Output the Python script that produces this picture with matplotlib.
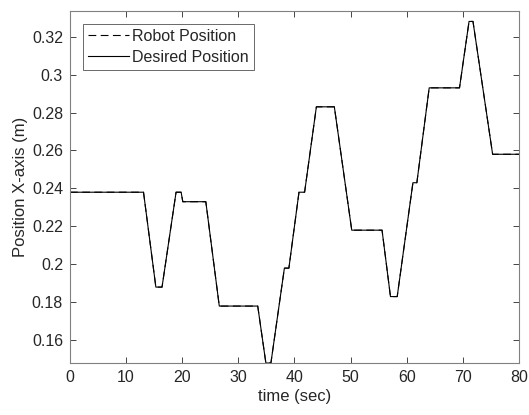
import matplotlib.pyplot as plt

plt.rcParams['font.family'] = ['Liberation Sans', 'DejaVu Sans']

# breakpoints of the trajectory (time in s, position in m)
t = [0, 13.1, 15.3, 16.4, 18.9, 19.8, 20.1, 24.2, 26.6, 33.45, 34.9, 35.8,
     38.2, 39.0, 40.8, 41.8, 43.9, 47.1, 50.2, 55.6, 57.1, 58.3, 61.1, 61.8,
     64.0, 69.4, 71.1, 71.8, 75.3, 80]
desired = [0.238, 0.238, 0.188, 0.188, 0.238, 0.238, 0.233, 0.233, 0.178, 0.178,
           0.148, 0.148, 0.198, 0.198, 0.238, 0.238, 0.283, 0.283, 0.218, 0.218,
           0.183, 0.183, 0.243, 0.243, 0.293, 0.293, 0.328, 0.328, 0.258, 0.258]
robot = desired

xticks = [0, 10, 20, 30, 40, 50, 60, 70, 80]
yticks = [0.16, 0.18, 0.2, 0.22, 0.24, 0.26, 0.28, 0.3, 0.32]
ylabels = ["0.16", "0.18", "0.2", "0.22", "0.24", "0.26", "0.28", "0.3", "0.32"]

gray = "#262626"
fig = plt.figure(figsize=(5.29, 4.15), dpi=100)
ax = fig.add_axes([0.1323, 0.1253, 0.8488, 0.8482])

ax.plot(t, robot, color="black", lw=0.8, dashes=(7, 4), label="Robot Position")
ax.plot(t, desired, "-", color="black", lw=0.8, label="Desired Position")

ax.set_xlim(0, 80)
ax.set_ylim(0.148, 0.3335)
ax.set_xticks(xticks)
ax.set_yticks(yticks)
ax.set_yticklabels(ylabels)
ax.tick_params(direction="in", top=True, right=True, length=4, width=0.6,
               labelsize=11.5, colors=gray, pad=5)
for s in ax.spines.values():
    s.set_color("#808080")
    s.set_linewidth(0.8)

ax.set_xlabel("time (sec)", fontsize=12, color=gray, labelpad=3)
ax.set_ylabel("Position X-axis (m)", fontsize=12, color=gray, labelpad=3)

leg = ax.legend(loc="upper left", fontsize=11.5, frameon=True, fancybox=False,
                borderpad=0.3, handlelength=2.6, handletextpad=0.2,
                labelspacing=0.4, borderaxespad=0.8)
leg.get_frame().set_edgecolor(gray)
leg.get_frame().set_linewidth(0.6)
for txt in leg.get_texts():
    txt.set_color(gray)

fig.savefig("out.png", dpi=100)
